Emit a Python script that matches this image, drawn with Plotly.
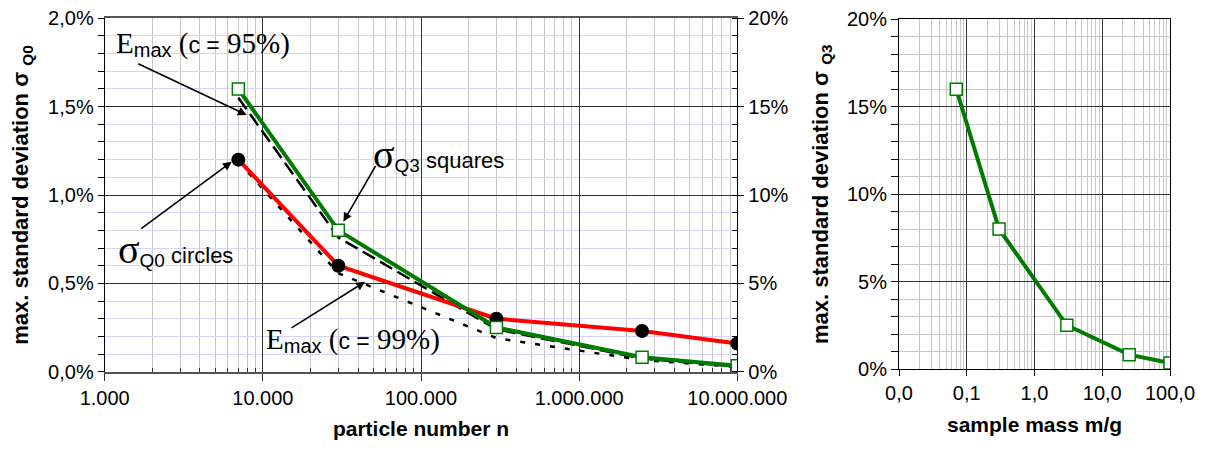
import math
import plotly.graph_objects as go

# ---- data -------------------------------------------------------------
n_particles = [7000, 30000, 300000, 2500000, 10000000]   # particle number n
sample_mass = [0.07, 0.3, 3, 25, 100]                    # sample mass m/g
sigma_q0 = [1.2, 0.6, 0.3, 0.23, 0.16]                   # % (left axis)
sigma_q3 = [16, 8, 2.5, 0.82, 0.34]                      # % (right axes)
e_max_95 = [1.55, 0.76, 0.24, 0.075, 0.028]              # % (left axis)
e_max_99 = [1.19, 0.557, 0.19, 0.066, 0.027]             # % (left axis)

n_ticks = [1e3, 1e4, 1e5, 1e6, 1e7]
n_labels = ["1.000", "10.000", "100.000", "1.000.000", "10.000.000"]
m_ticks = [0.01, 0.1, 1, 10, 100]
m_labels = ["0,0", "0,1", "1,0", "10,0", "100,0"]
q0_ticks = [0, 0.5, 1.0, 1.5, 2.0]
q0_labels = ["0,0%", "0,5%", "1,0%", "1,5%", "2,0%"]
q3_ticks = [0, 5, 10, 15, 20]
q3_labels = ["0%", "5%", "10%", "15%", "20%"]

W, H = 1207, 450
SANS = "Liberation Sans"
SERIF = "Liberation Serif"
GREEN = "#007a00"
RED = "#ff0000"
MAJOR = "#333333"
MINOR_V = "#c8c8c8"
MINOR_H_BLUE = "#d4d4fb"


def log_minor(lo, hi):
    return [k * 10 ** d for d in range(lo, hi) for k in range(2, 10)]


def px(x, y):
    return x / W, 1 - y / H


fig = go.Figure()

# E_max reference curves (drawn underneath the measured series)
fig.add_trace(go.Scatter(x=n_particles, y=e_max_95, mode="lines",
                         line=dict(color="black", width=2.5, dash="14px,6px"),
                         xaxis="x", yaxis="y"))
fig.add_trace(go.Scatter(x=n_particles, y=e_max_99, mode="lines",
                         line=dict(color="black", width=2.5, dash="5px,10px"),
                         xaxis="x", yaxis="y"))
# sigma_Q0 -> circles, red line
fig.add_trace(go.Scatter(x=n_particles, y=sigma_q0, mode="lines+markers",
                         line=dict(color=RED, width=4),
                         marker=dict(symbol="circle", size=14, color="black",
                                     line=dict(width=0)),
                         xaxis="x", yaxis="y"))
# sigma_Q3 -> squares, green line (right-hand axis)
fig.add_trace(go.Scatter(x=n_particles, y=sigma_q3, mode="lines+markers",
                         line=dict(color=GREEN, width=4),
                         marker=dict(symbol="square", size=12, color="white",
                                     line=dict(color=GREEN, width=1.5)),
                         xaxis="x", yaxis="y2"))
# sample mass panel
fig.add_trace(go.Scatter(x=sample_mass, y=sigma_q3, mode="lines+markers",
                         line=dict(color=GREEN, width=4),
                         marker=dict(symbol="square", size=12, color="white",
                                     line=dict(color=GREEN, width=1.5)),
                         xaxis="x3", yaxis="y3"))

tickfont = dict(family=SANS, size=20, color="black")
xtitlefont = dict(family=SANS, size=21, color="black")
ytitlefont = dict(family=SANS, size=22, color="black")

left_dom_x = [104.7 / W, 737.3 / W]
left_dom_y = [1 - 371.7 / H, 1 - 18.3 / H]
right_dom_x = [899 / W, 1170 / W]
right_dom_y = [1 - 369 / H, 1 - 19.3 / H]

fig.update_layout(
    width=W, height=H,
    margin=dict(l=0, r=0, t=0, b=0, autoexpand=False),
    paper_bgcolor="white", plot_bgcolor="white",
    showlegend=False,
    font=dict(family=SANS, color="black"),
    xaxis=dict(
        type="log", range=[3, 7], domain=left_dom_x, anchor="y",
        automargin=False,
        tickvals=n_ticks, ticktext=n_labels, tickfont=tickfont,
        showgrid=True, gridcolor=MAJOR, gridwidth=1,
        ticks="outside", ticklen=7, tickcolor=MAJOR,
        minor=dict(tickvals=log_minor(3, 7), showgrid=True,
                   gridcolor=MINOR_V, gridwidth=1,
                   ticks="inside", ticklen=4, tickcolor=MAJOR),
        showline=True, linecolor="#555555", linewidth=2, mirror=True,
        zeroline=False,
        title=dict(text="<b>particle number n</b>", font=xtitlefont,
                   standoff=14),
    ),
    yaxis=dict(
        range=[0, 2], domain=left_dom_y, anchor="x",
        automargin=False,
        tickvals=q0_ticks, ticktext=q0_labels, tickfont=tickfont,
        showgrid=True, gridcolor=MAJOR, gridwidth=1,
        ticks="outside", ticklen=6, tickcolor="black",
        minor=dict(dtick=0.1, tick0=0, showgrid=True, gridcolor=MINOR_H_BLUE,
                   gridwidth=1, ticks="outside", ticklen=6, tickcolor="black"),
        showline=True, linecolor="black", linewidth=1,
        zeroline=False,
        title=dict(text="<b>max. standard deviation σ <sub>Q0</sub></b>",
                   font=ytitlefont, standoff=13),
    ),
    yaxis2=dict(
        range=[0, 20], overlaying="y", side="right", anchor="x",
        automargin=False,
        tickvals=q3_ticks, ticktext=q3_labels, tickfont=tickfont,
        showgrid=False, zeroline=False,
        ticks="outside", ticklen=6, tickcolor="black",
        minor=dict(dtick=1, tick0=0, ticks="inside", ticklen=5,
                   tickcolor="black", showgrid=False),
        showline=True, linecolor="black", linewidth=1,
    ),
    xaxis3=dict(
        type="log", range=[-2, 2], domain=right_dom_x, anchor="y3",
        automargin=False,
        tickvals=m_ticks, ticktext=m_labels, tickfont=tickfont,
        showgrid=True, gridcolor=MAJOR, gridwidth=1,
        ticks="outside", ticklen=6, tickcolor="black",
        minor=dict(tickvals=log_minor(-2, 2), showgrid=True,
                   gridcolor=MINOR_V, gridwidth=1),
        showline=True, linecolor="black", linewidth=1, mirror=True,
        zeroline=False,
        title=dict(text="<b>sample mass m/g</b>", font=xtitlefont,
                   standoff=14),
    ),
    yaxis3=dict(
        range=[0, 20], domain=right_dom_y, anchor="x3",
        automargin=False,
        tickvals=q3_ticks, ticktext=q3_labels, tickfont=tickfont,
        showgrid=True, gridcolor=MAJOR, gridwidth=1,
        ticks="outside", ticklen=7, tickcolor="black",
        minor=dict(dtick=1, tick0=0, showgrid=True, gridcolor=MINOR_V,
                   gridwidth=1, ticks="outside", ticklen=7, tickcolor="black"),
        showline=True, linecolor="black", linewidth=1, mirror=True,
        zeroline=False,
        title=dict(text="<b>max. standard deviation σ <sub>Q3</sub></b>",
                   font=ytitlefont, standoff=12),
    ),
)


def serif(t, size):
    return f'<span style="font-family:{SERIF};font-size:{size}px">{t}</span>'


def sans(t, size):
    return f'<span style="font-family:{SANS};font-size:{size}px">{t}</span>'


def e_label(conf):
    return (serif("E", 29) + "<sub>" + sans("max", 20) + "</sub>"
            + serif(" (", 29) + sans("c =", 23) + serif(f" {conf})", 29))


def sigma_label(sub, word):
    return (serif("σ", 40) + "<sub>" + sans(sub, 19) + "</sub>"
            + sans(" " + word, 22))


labels = [
    (e_label("95%"), 114, 44),
    (sigma_label("Q3", "squares"), 371, 154),
    (sigma_label("Q0", "circles"), 116, 249),
    (e_label("99%"), 264, 340),
]
for text, x0, y0 in labels:
    xp, yp = px(x0, y0)
    fig.add_annotation(text=text, xref="paper", yref="paper", x=xp, y=yp,
                       xanchor="left", yanchor="middle", showarrow=False,
                       font=dict(family=SANS, size=20, color="black"))

# pointer arrows: head in data coordinates (log10 on the n axis),
# tail given as a pixel offset from the head
arrows = [
    (7907, 1.453, -110, -52),
    (32300, 0.849, 33, -57),
    (6353, 1.188, -92, 68),
    (44270, 0.509, -75, 47),
]
for hx, hy, ax, ay in arrows:
    fig.add_annotation(x=math.log10(hx), y=hy, xref="x", yref="y",
                       ax=ax, ay=ay, axref="pixel", ayref="pixel", text="",
                       showarrow=True, arrowhead=2, arrowsize=1.1,
                       arrowwidth=1.6, arrowcolor="black", standoff=0)

fig.write_html("out.html")
